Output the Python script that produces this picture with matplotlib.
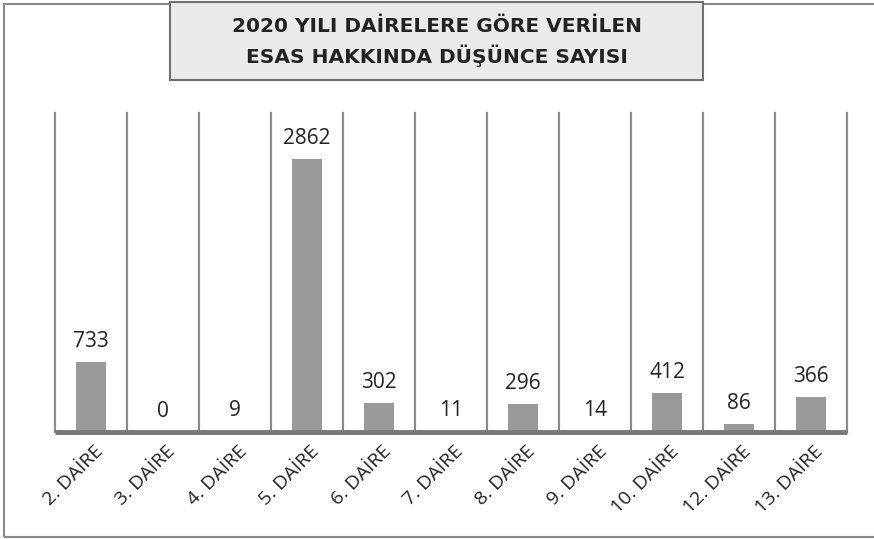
import numpy as np
import matplotlib.pyplot as plt
import matplotlib.transforms as mtransforms
from matplotlib.patches import Rectangle

# veriler
daireler = ["2. DAİRE", "3. DAİRE", "4. DAİRE", "5. DAİRE", "6. DAİRE", "7. DAİRE",
            "8. DAİRE", "9. DAİRE", "10. DAİRE", "12. DAİRE", "13. DAİRE"]
sayilar = [733, 0, 9, 2862, 302, 11, 296, 14, 412, 86, 366]
baslik = "2020 YILI DAİRELERE GÖRE VERİLEN\nESAS HAKKINDA DÜŞÜNCE SAYISI"

W, H = 874, 539
fig = plt.figure(figsize=(W / 100, H / 100), dpi=100)
fig.patch.set_facecolor("white")

# dis cerceve (sag kenar resmin disinda)
fig.patches.append(Rectangle((4 / W, 2 / H), 1.2, (535 - 2) / H, transform=fig.transFigure,
                             facecolor="none", edgecolor="#8a8a8a", linewidth=1.5))

# baslik kutusu
fig.patches.append(Rectangle((170 / W, 1 - 80 / H), (703 - 170) / W, 78 / H,
                             transform=fig.transFigure, facecolor="#ebebeb",
                             edgecolor="#707070", linewidth=1.5))
fig.text((170 + 703) / 2 / W, 1 - 42 / H, baslik, ha="center", va="center",
         fontsize=14.5, fontweight="bold", color="#222222", linespacing=1.5,
         family="DejaVu Sans")

ax = fig.add_axes([55 / W, 107 / H, (847 - 55) / W, (432 - 113) / H])
x = np.arange(len(daireler))
ax.bar(x, sayilar, width=0.42, color="#999999", zorder=2)
ax.set_xlim(-0.5, len(daireler) - 0.5)
ax.set_ylim(0, 3345)

# dikey cizgiler
for b in np.arange(len(daireler) + 1) - 0.5:
    ax.axvline(b, color="#8a8a8a", linewidth=1.6, zorder=1, clip_on=False)

for s in ["top", "right", "left"]:
    ax.spines[s].set_visible(False)
ax.spines["bottom"].set_color("#777777")
ax.spines["bottom"].set_linewidth(3.5)
ax.spines["bottom"].set_capstyle("butt")
ax.spines["bottom"].set_zorder(3)

ax.set_yticks([])
ax.set_xticks(x)
ax.tick_params(axis="x", length=0, pad=12)
ax.set_xticklabels(daireler, rotation=45, ha="right", va="center", rotation_mode="anchor",
                   fontsize=14, color="#222222", family="Open Sans")
kaydir = mtransforms.ScaledTranslation(6.5 / 72, 0, fig.dpi_scale_trans)
for lbl in ax.get_xticklabels():
    lbl.set_transform(lbl.get_transform() + kaydir)

for xi, v in zip(x, sayilar):
    ax.annotate(str(v), (xi, v), xytext=(0, 7), textcoords="offset points",
                ha="center", va="bottom", fontsize=15, color="#222222", family="Open Sans")

plt.savefig("out.png", dpi=100)
